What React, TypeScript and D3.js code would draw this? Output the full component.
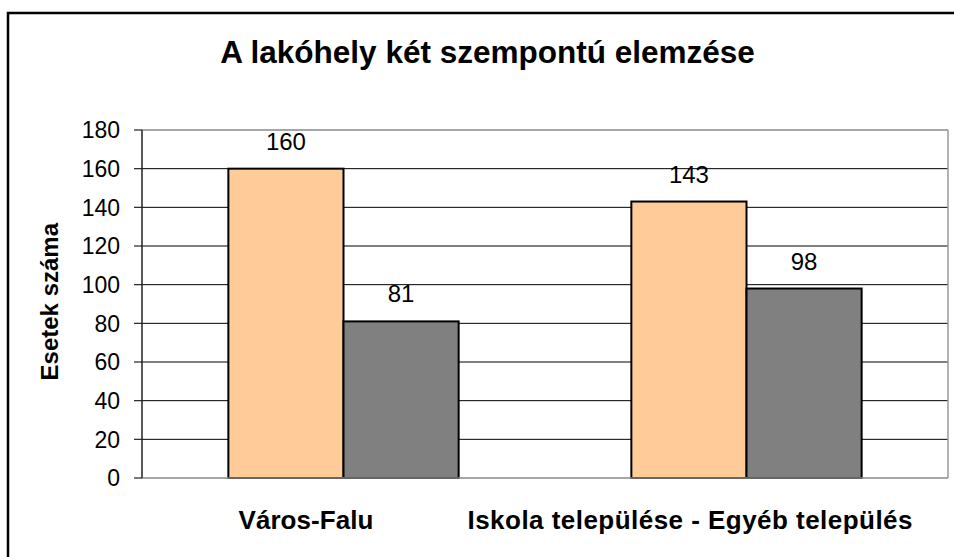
import React from 'react';
import * as d3 from 'd3';

// chart data
const categories = ['Város-Falu', 'Iskola települése - Egyéb település'];
const series = ['Első', 'Második'];
const firstValues = [160, 143];
const secondValues = [81, 98];
const yTicks = [0, 20, 40, 60, 80, 100, 120, 140, 160, 180];
const seriesColors = ['#FFCC99', '#808080'];

const title = 'A lakóhely két szempontú elemzése';
const yTitle = 'Esetek száma';

const W = 954;
const H = 557;
const FONT = "'Liberation Sans', Arial, sans-serif";

export default function App() {
  const plot = { left: 142, right: 948, top: 130, bottom: 478 };

  const x = d3.scaleBand<string>().domain(categories).range([plot.left, plot.right]);
  const band = x.bandwidth();
  const barW = band / 3.5; // excel gap width 150%
  const inner = d3.scaleBand<string>()
    .domain(series)
    .range([(band - 2 * barW) / 2, (band + 2 * barW) / 2]);
  const y = d3.scaleLinear().domain([0, 180]).range([plot.bottom, plot.top]);

  const rows = categories.map((c, i) => ({ cat: c, vals: [firstValues[i], secondValues[i]] }));

  // category labels sit a bit left of their group centers in the original
  const labelShift = [-37.5, -56.5];
  const labelWidth = [135, 445];

  return (
    <div style={{ position: 'absolute', left: 0, top: 0 }}>
      <svg width={W} height={H} style={{ display: 'block', background: '#fff' }} fontFamily={FONT}>
        <rect x={0} y={0} width={W} height={H} fill="#fff" />
        {/* outer chart frame, running off the page right and bottom */}
        <rect x={8} y={13} width={W + 20} height={H + 20} fill="none" stroke="#000" strokeWidth={2.5} />

        <text x={487.5} y={63} textAnchor="middle" fontSize={31.5} fontWeight="bold">
          {title}
        </text>

        {/* grid */}
        {yTicks.filter(t => t > 0 && t < 180).map(t => (
          <line key={t} x1={plot.left} x2={plot.right} y1={y(t)} y2={y(t)} stroke="#000" strokeWidth={1} />
        ))}
        {/* plot border top/right */}
        <line x1={plot.left} x2={plot.right} y1={y(180)} y2={y(180)} stroke="#888" strokeWidth={1.5} />
        <line x1={plot.right} x2={plot.right} y1={y(180)} y2={y(0)} stroke="#999" strokeWidth={1.5} />

        {/* bars */}
        {rows.map(r => (
          <g key={r.cat} transform={`translate(${x(r.cat)},0)`}>
            {r.vals.map((v, j) => (
              <rect
                key={j}
                x={inner(series[j])}
                y={y(v)}
                width={inner.bandwidth()}
                height={y(0) - y(v)}
                fill={seriesColors[j]}
                stroke="#000"
                strokeWidth={2}
              />
            ))}
            {r.vals.map((v, j) => (
              <text
                key={'l' + j}
                x={(inner(series[j]) as number) + inner.bandwidth() / 2}
                y={y(v) - 19}
                textAnchor="middle"
                fontSize={24}
              >
                {v}
              </text>
            ))}
          </g>
        ))}

        {/* axes */}
        <line x1={plot.left} x2={plot.right} y1={y(0)} y2={y(0)} stroke="#888" strokeWidth={1.5} />
        <line x1={plot.left} x2={plot.left} y1={y(180)} y2={y(0)} stroke="#222" strokeWidth={1.5} />
        {yTicks.map(t => (
          <g key={t}>
            <line x1={plot.left - 8} x2={plot.left} y1={y(t)} y2={y(t)} stroke="#222" strokeWidth={1.2} />
            <text x={120} y={y(t)} dy="0.36em" textAnchor="end" fontSize={23}>
              {t}
            </text>
          </g>
        ))}

        {categories.map((c, i) => (
          <text
            key={c}
            x={(x(c) as number) + band / 2 + labelShift[i]}
            y={529}
            textAnchor="middle"
            fontSize={26}
            fontWeight="bold"
            textLength={labelWidth[i]}
            lengthAdjust="spacing"
          >
            {c}
          </text>
        ))}

        <text
          transform={`translate(58,301.7) rotate(-90)`}
          textAnchor="middle"
          fontSize={24}
          fontWeight="bold"
        >
          {yTitle}
        </text>
      </svg>
    </div>
  );
}
